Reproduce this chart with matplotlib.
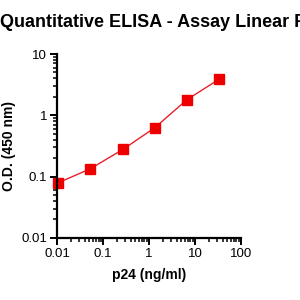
import matplotlib.pyplot as plt
from matplotlib.ticker import LogLocator, FixedFormatter, FixedLocator

plt.rcParams['font.family'] = ['Liberation Sans', 'DejaVu Sans']

# data
conc = [0.0105, 0.053, 0.27, 1.35, 6.7, 34]
od = [0.079, 0.134, 0.277, 0.63, 1.8, 3.9]

xticks = [0.01, 0.1, 1, 10, 100]
xlabels = ["0.01", "0.1", "1", "10", "100"]
yticks = [0.01, 0.1, 1, 10]
ylabels = ["0.01", "0.1", "1", "10"]

fig = plt.figure(figsize=(3, 3), dpi=100)
ax = fig.add_axes([0.19, 0.207, 0.613, 0.613])

ax.plot(conc, od, color="#e8202a", lw=1, marker="s", markersize=6.5,
        markerfacecolor="#ee0000", markeredgecolor="#ee0000", clip_on=False)

ax.set_xscale("log")
ax.set_yscale("log")
ax.set_xlim(0.01, 100)
ax.set_ylim(0.01, 10)

ax.xaxis.set_major_locator(FixedLocator(xticks))
ax.xaxis.set_major_formatter(FixedFormatter(xlabels))
ax.yaxis.set_major_locator(FixedLocator(yticks))
ax.yaxis.set_major_formatter(FixedFormatter(ylabels))
ax.xaxis.set_minor_locator(LogLocator(base=10, subs=range(2, 10)))
ax.yaxis.set_minor_locator(LogLocator(base=10, subs=range(2, 10)))

for s in ["top", "right"]:
    ax.spines[s].set_visible(False)
for s in ["left", "bottom"]:
    ax.spines[s].set_linewidth(1.6)

ax.tick_params(which="major", length=5, width=1.4, labelsize=9.5, direction="out", pad=2)
ax.tick_params(which="minor", length=3, width=1.1, direction="out")

ax.set_xlabel("p24 (ng/ml)", fontsize=10, fontweight="bold", labelpad=6)
ax.set_ylabel("O.D. (450 nm)", fontsize=10, fontweight="bold", labelpad=4)

fig.text(0.0, 0.925, "Quantitative ELISA - Assay Linear Range", fontsize=13,
         fontweight="bold", ha="left", va="center")

fig.savefig("out.png", dpi=100)
